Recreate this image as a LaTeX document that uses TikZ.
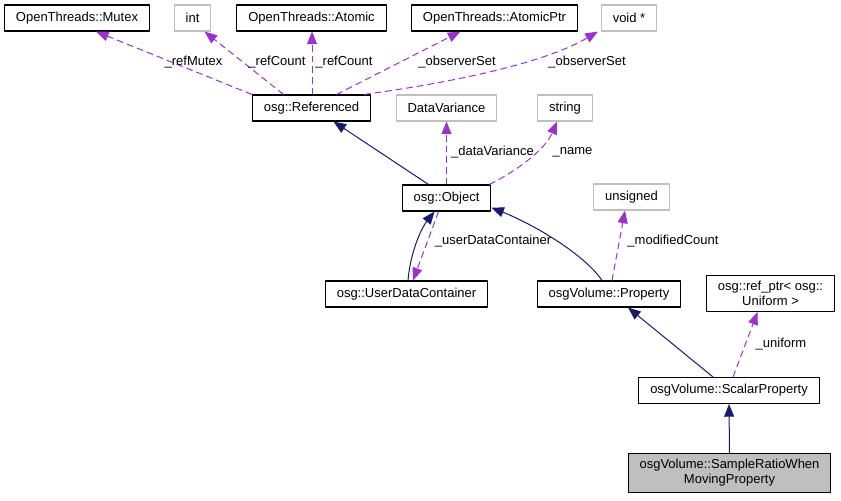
\documentclass[tikz,border=0pt]{standalone}
\usepackage{fontspec}
\setmainfont{Liberation Sans}
\usetikzlibrary{arrows.meta,calc}
\definecolor{edgeblue}{HTML}{191970}
\definecolor{deppurple}{HTML}{9A32CD}
\definecolor{boxgray}{HTML}{BFBFBF}
\begin{document}
\begin{tikzpicture}[x=0.75pt, y=-0.75pt, font=\fontsize{9.75}{11.25}\selectfont, line join=round, >={Triangle[length=9.5pt,width=7.5pt]},
	cls/.style={draw=black, line width=0.8pt, fill=white, inner xsep=8.5pt, inner ysep=4.3pt, minimum height=19.5pt, align=center},
	ext/.style={cls, draw=boxgray},
	inh/.style={->, draw=edgeblue, line width=0.75pt},
	dep/.style={->, draw=deppurple, line width=0.75pt, dash pattern=on 5pt off 3pt},
	lbl/.style={inner sep=0pt}]
	\useasboundingbox (0,0) rectangle (841,500);
	\node[cls] (mutex) at (77,18) {OpenThreads::Mutex};
	\node[ext] (int) at (192.5,18) {int};
	\node[cls] (atomic) at (311.5,18) {OpenThreads::Atomic};
	\node[cls] (aptr) at (494.5,18) {OpenThreads::AtomicPtr};
	\node[ext] (void) at (629,18) {void *};
	\node[cls] (ref) at (311.5,108) {osg::Referenced};
	\node[ext] (dvar) at (446.5,108) {DataVariance};
	\node[ext] (str) at (565,108) {string};
	\node[cls] (obj) at (446.5,198) {osg::Object};
	\node[ext] (uns) at (631.5,197) {unsigned};
	\node[cls] (udc) at (406.5,294) {osg::UserDataContainer};
	\node[cls] (prop) at (609,294) {osgVolume::Property};
	\node[cls] (rptr) at (770.5,293.5) {osg::ref\_ptr< osg::\\Uniform >};
	\node[cls] (scal) at (729,390.5) {osgVolume::ScalarProperty};
	\node[cls, fill=boxgray] (samp) at (729.5,473) {osgVolume::SampleRatioWhen\\MovingProperty};
	\draw[dep] (ref.north west) -- ($(mutex.south)+(19,0)$);
	\draw[dep] ($(ref.north)+(-28,0)$) -- ($(int.south)+(12,0)$);
	\draw[dep] ($(ref.north)+(0.5,0)$) -- ($(atomic.south)+(0.5,0)$);
	\draw[dep] ($(ref.north)+(25,0)$) -- ($(aptr.south)+(-34,0)$);
	\draw[dep] ($(ref.north east)+(-7,0)$) .. controls (470,80) and (550,60) .. ($(void.south west)+(-3,0)$);
	\draw[inh] ($(obj.north)+(-18,0)$) -- ($(ref.south)+(22,0)$);
	\draw[dep] (obj.north) -- (dvar.south);
	\draw[dep] ($(obj.north east)+(-2,0)$) .. controls (515,172) and (545,150) .. ($(str.south)+(-8,0)$);
	\draw[inh] ($(udc.north)+(1.5,0)$) .. controls (410,255) and (420,230) .. ($(obj.south)+(-12,0)$);
	\draw[dep] ($(obj.south)+(-8,0)$) -- ($(udc.north)+(6.5,0)$);
	\draw[inh] ($(prop.north)+(-7,0)$) .. controls (585,255) and (535,225) .. ($(obj.south east)+(0,-4)$);
	\draw[dep] ($(prop.north)+(3,0)$) -- ($(uns.south)+(-6.5,0)$);
	\draw[inh] ($(scal.north)+(-16,0)$) -- ($(prop.south)+(19,0)$);
	\draw[dep] ($(scal.north)+(4,0)$) -- ($(rptr.south)+(-13,0)$);
	\draw[inh] (samp.north) -- (scal.south);
	\foreach \n/\x/\y/\t in {lmut/193.5/62/\_refMutex, lint/277/62/\_refCount, lato/344/62/\_refCount, lptr/457/62/\_observerSet, lvoid/587/62/\_observerSet, ldv/492.5/152/\_dataVariance, lname/572.5/152/\_name, ludc/493/241/\_userDataContainer, lmod/673/241/\_modifiedCount, luni/781/344/\_uniform}
	\node[lbl] (\n) at (\x,\y) {\t};
\end{tikzpicture}
\end{document}
